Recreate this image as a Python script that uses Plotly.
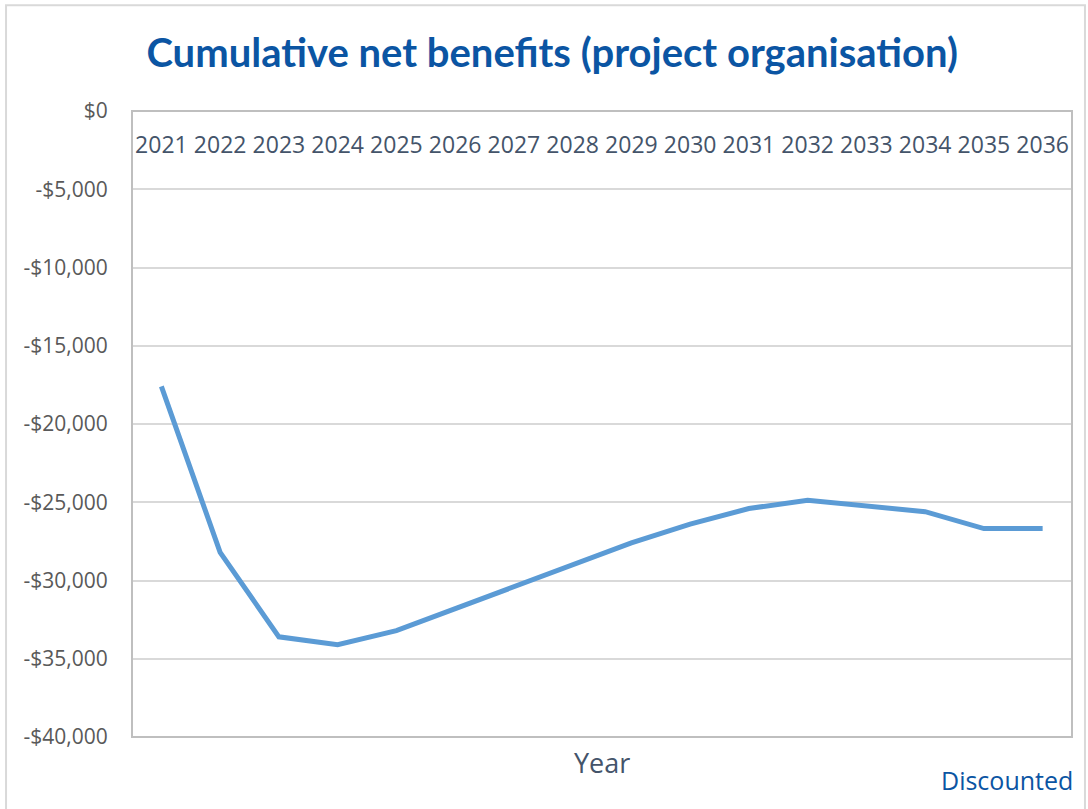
import plotly.graph_objects as go

# Cumulative net benefits (discounted), one value per year
years = ["2021", "2022", "2023", "2024", "2025", "2026", "2027", "2028",
         "2029", "2030", "2031", "2032", "2033", "2034", "2035", "2036"]
cumulative_net_benefit = [-17600, -28200, -33600, -34100, -33200, -31800,
                          -30450, -29000, -27600, -26400, -25400, -24870,
                          -25250, -25600, -26680, -26680]

y_tick_values = [0, -5000, -10000, -15000, -20000, -25000, -30000, -35000, -40000]
y_tick_labels = ["$0", "-$5,000", "-$10,000", "-$15,000", "-$20,000",
                 "-$25,000", "-$30,000", "-$35,000", "-$40,000"]

TITLE_BLUE = "#0B55A3"
AXIS_TEXT = "#44546A"
TICK_GRAY = "#595959"
LINE_BLUE = "#5B9BD5"
FRAME_GRAY = "#BFBFBF"
GRID_GRAY = "#D9D9D9"

fig = go.Figure()
fig.add_trace(go.Scatter(
    x=years, y=cumulative_net_benefit, mode="lines", name="Discounted",
    line=dict(color=LINE_BLUE, width=5), showlegend=False,
))

fig.update_layout(
    width=1088, height=809,
    margin=dict(l=132, r=16, t=111, b=72),
    paper_bgcolor="white", plot_bgcolor="white",
    font=dict(family="Open Sans", color=TICK_GRAY),
    title=dict(
        text="<b>Cumulative net benefits (project organisation)</b>",
        x=0.447, xanchor="center", xref="paper", y=0.935, yanchor="middle",
        font=dict(family="Lato", size=40, color=TITLE_BLUE),
    ),
    xaxis=dict(
        type="category", range=[-0.5, len(years) - 0.5],
        anchor="free", position=0.971, side="bottom",
        showline=False, showgrid=False, zeroline=False, ticks="",
        tickfont=dict(family="Open Sans", size=23, color=AXIS_TEXT),
    ),
    yaxis=dict(
        range=[-40000, 0], tickvals=y_tick_values, ticktext=y_tick_labels,
        showgrid=True, gridcolor=GRID_GRAY, gridwidth=2, zeroline=False,
        showline=False, ticks="outside", ticklen=19,
        tickcolor="rgba(0,0,0,0)",
        tickfont=dict(family="Open Sans", size=21, color=TICK_GRAY),
    ),
    shapes=[
        # plot area frame
        dict(type="rect", xref="paper", yref="paper", x0=0, x1=1, y0=0, y1=1,
             line=dict(color=FRAME_GRAY, width=2), layer="above"),
        # chart border
        dict(type="rect", xref="paper", yref="paper",
             x0=-0.134, x1=1.0138, y0=-0.2, y1=1.169,
             line=dict(color=GRID_GRAY, width=2), layer="below"),
    ],
    annotations=[
        dict(text="Year", xref="paper", yref="paper", x=0.5, y=-0.041,
             xanchor="center", yanchor="middle", showarrow=False,
             font=dict(family="Open Sans", size=27, color=AXIS_TEXT)),
        dict(text="Discounted", xref="paper", yref="paper", x=1.003, y=-0.069,
             xanchor="right", yanchor="middle", showarrow=False,
             font=dict(family="Open Sans", size=25, color=TITLE_BLUE)),
    ],
)

fig.write_html("out.html")
